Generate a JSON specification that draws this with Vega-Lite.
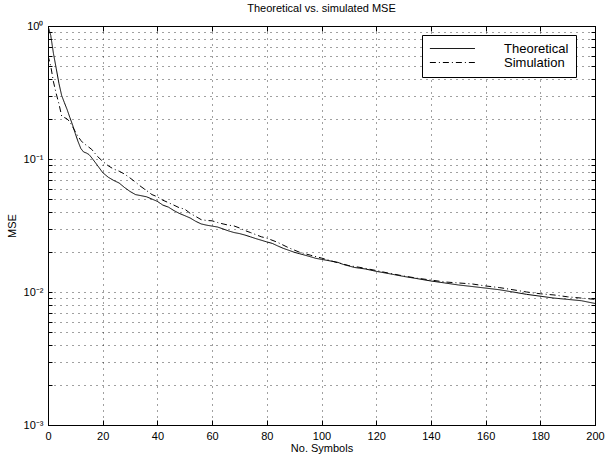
{
  "$schema": "https://vega.github.io/schema/vega-lite/v6.json",
  "width": 547,
  "height": 399,
  "autosize": "none",
  "padding": {"left": 48, "top": 26, "right": 10, "bottom": 31},
  "background": "white",
  "config": {
    "font": "Liberation Sans",
    "view": {"stroke": "black", "strokeWidth": 1},
    "axis": {
      "domainColor": "black",
      "tickColor": "black",
      "labelColor": "black",
      "titleColor": "black",
      "labelFontSize": 11,
      "titleFontSize": 11,
      "titleFontWeight": "normal",
      "gridColor": "#000",
      "gridOpacity": 0.75,
      "gridDash": [1, 5],
      "gridWidth": 1
    }
  },
  "title": {"text": "Theoretical vs. simulated MSE", "fontSize": 11, "fontWeight": "normal", "font": "Liberation Sans", "offset": 6, "color": "black"},
  "datasets": {
    "mse": [
      {"n": 0, "mse": 1.0, "series": "Theoretical"},
      {"n": 1, "mse": 0.85, "series": "Theoretical"},
      {"n": 2, "mse": 0.62, "series": "Theoretical"},
      {"n": 3, "mse": 0.48, "series": "Theoretical"},
      {"n": 4, "mse": 0.37, "series": "Theoretical"},
      {"n": 5, "mse": 0.30, "series": "Theoretical"},
      {"n": 6, "mse": 0.265, "series": "Theoretical"},
      {"n": 7, "mse": 0.235, "series": "Theoretical"},
      {"n": 8, "mse": 0.205, "series": "Theoretical"},
      {"n": 9, "mse": 0.18, "series": "Theoretical"},
      {"n": 10, "mse": 0.155, "series": "Theoretical"},
      {"n": 11, "mse": 0.135, "series": "Theoretical"},
      {"n": 12, "mse": 0.12, "series": "Theoretical"},
      {"n": 13, "mse": 0.113, "series": "Theoretical"},
      {"n": 14, "mse": 0.111, "series": "Theoretical"},
      {"n": 15, "mse": 0.108, "series": "Theoretical"},
      {"n": 16, "mse": 0.102, "series": "Theoretical"},
      {"n": 18, "mse": 0.09, "series": "Theoretical"},
      {"n": 20, "mse": 0.079, "series": "Theoretical"},
      {"n": 22, "mse": 0.073, "series": "Theoretical"},
      {"n": 24, "mse": 0.069, "series": "Theoretical"},
      {"n": 26, "mse": 0.066, "series": "Theoretical"},
      {"n": 28, "mse": 0.061, "series": "Theoretical"},
      {"n": 30, "mse": 0.057, "series": "Theoretical"},
      {"n": 32, "mse": 0.054, "series": "Theoretical"},
      {"n": 34, "mse": 0.053, "series": "Theoretical"},
      {"n": 36, "mse": 0.052, "series": "Theoretical"},
      {"n": 38, "mse": 0.05, "series": "Theoretical"},
      {"n": 40, "mse": 0.048, "series": "Theoretical"},
      {"n": 42, "mse": 0.045, "series": "Theoretical"},
      {"n": 44, "mse": 0.0435, "series": "Theoretical"},
      {"n": 46, "mse": 0.041, "series": "Theoretical"},
      {"n": 48, "mse": 0.039, "series": "Theoretical"},
      {"n": 50, "mse": 0.0375, "series": "Theoretical"},
      {"n": 52, "mse": 0.036, "series": "Theoretical"},
      {"n": 54, "mse": 0.034, "series": "Theoretical"},
      {"n": 56, "mse": 0.0325, "series": "Theoretical"},
      {"n": 58, "mse": 0.0318, "series": "Theoretical"},
      {"n": 60, "mse": 0.0313, "series": "Theoretical"},
      {"n": 62, "mse": 0.0308, "series": "Theoretical"},
      {"n": 64, "mse": 0.0298, "series": "Theoretical"},
      {"n": 66, "mse": 0.0288, "series": "Theoretical"},
      {"n": 68, "mse": 0.028, "series": "Theoretical"},
      {"n": 70, "mse": 0.0275, "series": "Theoretical"},
      {"n": 72, "mse": 0.0268, "series": "Theoretical"},
      {"n": 74, "mse": 0.026, "series": "Theoretical"},
      {"n": 76, "mse": 0.0252, "series": "Theoretical"},
      {"n": 78, "mse": 0.0245, "series": "Theoretical"},
      {"n": 80, "mse": 0.0238, "series": "Theoretical"},
      {"n": 82, "mse": 0.0232, "series": "Theoretical"},
      {"n": 84, "mse": 0.0222, "series": "Theoretical"},
      {"n": 86, "mse": 0.0213, "series": "Theoretical"},
      {"n": 88, "mse": 0.0206, "series": "Theoretical"},
      {"n": 90, "mse": 0.0199, "series": "Theoretical"},
      {"n": 92, "mse": 0.0194, "series": "Theoretical"},
      {"n": 94, "mse": 0.0189, "series": "Theoretical"},
      {"n": 96, "mse": 0.0184, "series": "Theoretical"},
      {"n": 98, "mse": 0.0179, "series": "Theoretical"},
      {"n": 100, "mse": 0.0176, "series": "Theoretical"},
      {"n": 102, "mse": 0.0173, "series": "Theoretical"},
      {"n": 104, "mse": 0.017, "series": "Theoretical"},
      {"n": 106, "mse": 0.0167, "series": "Theoretical"},
      {"n": 108, "mse": 0.0161, "series": "Theoretical"},
      {"n": 110, "mse": 0.0157, "series": "Theoretical"},
      {"n": 112, "mse": 0.0153, "series": "Theoretical"},
      {"n": 114, "mse": 0.0151, "series": "Theoretical"},
      {"n": 116, "mse": 0.0149, "series": "Theoretical"},
      {"n": 118, "mse": 0.0146, "series": "Theoretical"},
      {"n": 120, "mse": 0.0143, "series": "Theoretical"},
      {"n": 125, "mse": 0.0137, "series": "Theoretical"},
      {"n": 130, "mse": 0.0131, "series": "Theoretical"},
      {"n": 135, "mse": 0.0126, "series": "Theoretical"},
      {"n": 140, "mse": 0.0121, "series": "Theoretical"},
      {"n": 145, "mse": 0.0117, "series": "Theoretical"},
      {"n": 150, "mse": 0.0113, "series": "Theoretical"},
      {"n": 155, "mse": 0.011, "series": "Theoretical"},
      {"n": 160, "mse": 0.0107, "series": "Theoretical"},
      {"n": 165, "mse": 0.0104, "series": "Theoretical"},
      {"n": 170, "mse": 0.01, "series": "Theoretical"},
      {"n": 175, "mse": 0.0096, "series": "Theoretical"},
      {"n": 180, "mse": 0.0093, "series": "Theoretical"},
      {"n": 185, "mse": 0.009, "series": "Theoretical"},
      {"n": 190, "mse": 0.0088, "series": "Theoretical"},
      {"n": 195, "mse": 0.0086, "series": "Theoretical"},
      {"n": 200, "mse": 0.0082, "series": "Theoretical"},
      {"n": 0, "mse": 0.6, "series": "Simulation"},
      {"n": 1, "mse": 0.5, "series": "Simulation"},
      {"n": 2, "mse": 0.38, "series": "Simulation"},
      {"n": 3, "mse": 0.31, "series": "Simulation"},
      {"n": 4, "mse": 0.26, "series": "Simulation"},
      {"n": 5, "mse": 0.21, "series": "Simulation"},
      {"n": 6, "mse": 0.205, "series": "Simulation"},
      {"n": 7, "mse": 0.2, "series": "Simulation"},
      {"n": 8, "mse": 0.19, "series": "Simulation"},
      {"n": 9, "mse": 0.175, "series": "Simulation"},
      {"n": 10, "mse": 0.16, "series": "Simulation"},
      {"n": 11, "mse": 0.148, "series": "Simulation"},
      {"n": 12, "mse": 0.138, "series": "Simulation"},
      {"n": 13, "mse": 0.131, "series": "Simulation"},
      {"n": 14, "mse": 0.127, "series": "Simulation"},
      {"n": 16, "mse": 0.118, "series": "Simulation"},
      {"n": 18, "mse": 0.105, "series": "Simulation"},
      {"n": 20, "mse": 0.096, "series": "Simulation"},
      {"n": 22, "mse": 0.089, "series": "Simulation"},
      {"n": 24, "mse": 0.084, "series": "Simulation"},
      {"n": 26, "mse": 0.081, "series": "Simulation"},
      {"n": 28, "mse": 0.077, "series": "Simulation"},
      {"n": 30, "mse": 0.072, "series": "Simulation"},
      {"n": 32, "mse": 0.067, "series": "Simulation"},
      {"n": 34, "mse": 0.062, "series": "Simulation"},
      {"n": 36, "mse": 0.058, "series": "Simulation"},
      {"n": 38, "mse": 0.054, "series": "Simulation"},
      {"n": 40, "mse": 0.052, "series": "Simulation"},
      {"n": 42, "mse": 0.049, "series": "Simulation"},
      {"n": 44, "mse": 0.047, "series": "Simulation"},
      {"n": 46, "mse": 0.045, "series": "Simulation"},
      {"n": 48, "mse": 0.043, "series": "Simulation"},
      {"n": 50, "mse": 0.042, "series": "Simulation"},
      {"n": 52, "mse": 0.039, "series": "Simulation"},
      {"n": 54, "mse": 0.037, "series": "Simulation"},
      {"n": 56, "mse": 0.035, "series": "Simulation"},
      {"n": 58, "mse": 0.0345, "series": "Simulation"},
      {"n": 60, "mse": 0.0343, "series": "Simulation"},
      {"n": 62, "mse": 0.0333, "series": "Simulation"},
      {"n": 64, "mse": 0.0325, "series": "Simulation"},
      {"n": 66, "mse": 0.0318, "series": "Simulation"},
      {"n": 68, "mse": 0.0314, "series": "Simulation"},
      {"n": 70, "mse": 0.0303, "series": "Simulation"},
      {"n": 72, "mse": 0.029, "series": "Simulation"},
      {"n": 74, "mse": 0.028, "series": "Simulation"},
      {"n": 76, "mse": 0.027, "series": "Simulation"},
      {"n": 78, "mse": 0.026, "series": "Simulation"},
      {"n": 80, "mse": 0.0254, "series": "Simulation"},
      {"n": 84, "mse": 0.0236, "series": "Simulation"},
      {"n": 88, "mse": 0.0215, "series": "Simulation"},
      {"n": 92, "mse": 0.0199, "series": "Simulation"},
      {"n": 96, "mse": 0.0189, "series": "Simulation"},
      {"n": 100, "mse": 0.018, "series": "Simulation"},
      {"n": 105, "mse": 0.0168, "series": "Simulation"},
      {"n": 110, "mse": 0.0158, "series": "Simulation"},
      {"n": 115, "mse": 0.0152, "series": "Simulation"},
      {"n": 120, "mse": 0.0145, "series": "Simulation"},
      {"n": 125, "mse": 0.0138, "series": "Simulation"},
      {"n": 130, "mse": 0.0132, "series": "Simulation"},
      {"n": 135, "mse": 0.0127, "series": "Simulation"},
      {"n": 140, "mse": 0.0123, "series": "Simulation"},
      {"n": 145, "mse": 0.0119, "series": "Simulation"},
      {"n": 150, "mse": 0.0117, "series": "Simulation"},
      {"n": 155, "mse": 0.0115, "series": "Simulation"},
      {"n": 160, "mse": 0.0111, "series": "Simulation"},
      {"n": 165, "mse": 0.0108, "series": "Simulation"},
      {"n": 170, "mse": 0.0104, "series": "Simulation"},
      {"n": 175, "mse": 0.01, "series": "Simulation"},
      {"n": 180, "mse": 0.0097, "series": "Simulation"},
      {"n": 185, "mse": 0.0095, "series": "Simulation"},
      {"n": 190, "mse": 0.0092, "series": "Simulation"},
      {"n": 195, "mse": 0.009, "series": "Simulation"},
      {"n": 200, "mse": 0.0088, "series": "Simulation"}
    ]
  },
  "data": {"name": "mse"},
  "layer": [
    {
      "mark": {"type": "line", "color": "black", "strokeWidth": 1, "clip": true},
      "encoding": {
        "x": {
          "field": "n", "type": "quantitative",
          "scale": {"domain": [0, 200], "nice": false, "zero": false},
          "axis": {
            "title": "No. Symbols", "titlePadding": 1,
            "values": [0, 20, 40, 60, 80, 100, 120, 140, 160, 180, 200],
            "tickSize": -5, "labelPadding": 10, "labelFlush": false,
            "grid": true
          }
        },
        "y": {
          "field": "mse", "type": "quantitative",
          "scale": {"type": "log", "domain": [0.001, 1], "nice": false},
          "axis": {
            "title": "MSE", "titlePadding": 6,
            "values": [0.001, 0.002, 0.003, 0.004, 0.005, 0.006, 0.007, 0.008, 0.009, 0.01, 0.02, 0.03, 0.04, 0.05, 0.06, 0.07, 0.08, 0.09, 0.1, 0.2, 0.3, 0.4, 0.5, 0.6, 0.7, 0.8, 0.9, 1],
            "labelExpr": "abs(datum.value - 1) < 1e-9 ? '10⁰' : abs(datum.value - 0.1) < 1e-9 ? '10⁻¹' : abs(datum.value - 0.01) < 1e-9 ? '10⁻²' : abs(datum.value - 0.001) < 1e-9 ? '10⁻³' : ''",
            "tickSize": -4, "labelPadding": 9, "labelFlush": false,
            "grid": true
          }
        },
        "strokeDash": {
          "field": "series", "type": "nominal",
          "scale": {"domain": ["Theoretical", "Simulation"], "range": [[1, 0], [6, 3, 1, 3]]},
          "legend": {
            "title": null,
            "orient": "none",
            "legendX": 374,
            "legendY": 9,
            "symbolType": "M-1,0H7",
            "symbolSize": 126.5,
            "symbolStrokeColor": "black",
            "symbolStrokeWidth": 1,
            "labelFontSize": 13,
            "labelColor": "black",
            "labelOffset": 62,
            "strokeColor": "black",
            "fillColor": "white",
            "padding": 7,
            "rowPadding": 0
          }
        }
      }
    },
    {
      "mark": {"type": "line", "opacity": 0},
      "encoding": {
        "x": {
          "field": "n", "type": "quantitative",
          "axis": {"orient": "top", "title": null, "labels": false, "tickSize": -5, "values": [0, 20, 40, 60, 80, 100, 120, 140, 160, 180, 200], "grid": false}
        },
        "y": {
          "field": "mse", "type": "quantitative",
          "axis": {"orient": "right", "title": null, "labels": false, "tickSize": -4, "values": [0.001, 0.002, 0.003, 0.004, 0.005, 0.006, 0.007, 0.008, 0.009, 0.01, 0.02, 0.03, 0.04, 0.05, 0.06, 0.07, 0.08, 0.09, 0.1, 0.2, 0.3, 0.4, 0.5, 0.6, 0.7, 0.8, 0.9, 1], "grid": false}
        },
        "detail": {"field": "series", "type": "nominal"}
      }
    }
  ],
  "resolve": {"axis": {"x": "independent", "y": "independent"}}
}
